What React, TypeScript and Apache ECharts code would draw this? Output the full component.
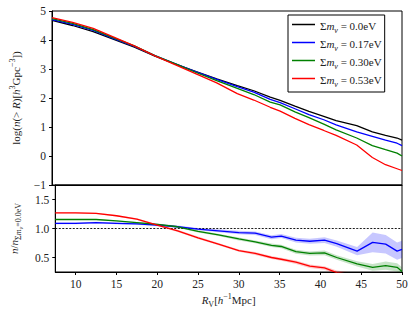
import React, { useEffect, useRef } from "react";
import * as echarts from "echarts";

const X = [7.5, 10, 12.5, 15, 17.5, 20, 22.5, 25, 27.5, 30, 32, 34, 35.2, 37, 38.7, 40.5, 42, 44.5, 46.4, 48, 49.4, 50];

const logN_000 = [4.68, 4.5, 4.29, 4.02, 3.75, 3.44, 3.17, 2.91, 2.66, 2.43, 2.25, 2.03, 1.92, 1.72, 1.54, 1.37, 1.22, 1.05, 0.83, 0.71, 0.62, 0.55];
const logN_017 = [4.7, 4.54, 4.33, 4.05, 3.78, 3.46, 3.18, 2.9, 2.64, 2.39, 2.2, 1.95, 1.84, 1.63, 1.43, 1.25, 1.07, 0.83, 0.68, 0.55, 0.44, 0.36];
const logN_030 = [4.74, 4.57, 4.36, 4.07, 3.8, 3.46, 3.18, 2.88, 2.6, 2.33, 2.12, 1.86, 1.76, 1.52, 1.32, 1.1, 0.9, 0.62, 0.36, 0.22, 0.1, 0.0];
const logN_053 = [4.77, 4.61, 4.4, 4.1, 3.8, 3.45, 3.14, 2.83, 2.52, 2.15, 1.93, 1.68, 1.55, 1.3, 1.08, 0.88, 0.71, 0.38, -0.05, -0.3, -0.44, -0.5];

const ratio_000 = [1, 1, 1, 1, 1, 1, 1, 1, 1, 1, 1, 1, 1, 1, 1, 1, 1, 1, 1, 1, 1, 1];
const ratio_017 = [1.09, 1.09, 1.1, 1.09, 1.08, 1.06, 1.03, 0.99, 0.96, 0.93, 0.92, 0.85, 0.87, 0.8, 0.78, 0.8, 0.74, 0.61, 0.76, 0.73, 0.61, 0.64];
const ratio_030 = [1.155, 1.155, 1.155, 1.13, 1.1, 1.07, 1.03, 0.95, 0.89, 0.82, 0.77, 0.71, 0.69, 0.6, 0.57, 0.58, 0.5, 0.39, 0.33, 0.36, 0.33, 0.26];
const ratio_053 = [1.27, 1.27, 1.26, 1.22, 1.16, 1.06, 0.96, 0.84, 0.73, 0.62, 0.57, 0.5, 0.47, 0.42, 0.35, 0.32, 0.24, 0.19, 0.12, 0.1, 0.09, 0.09];

const err_017 = [0.015, 0.015, 0.015, 0.015, 0.015, 0.02, 0.02, 0.02, 0.025, 0.03, 0.03, 0.035, 0.035, 0.04, 0.045, 0.05, 0.055, 0.07, 0.17, 0.16, 0.15, 0.15];
const err_030 = [0.01, 0.01, 0.01, 0.01, 0.012, 0.015, 0.015, 0.02, 0.02, 0.025, 0.025, 0.03, 0.03, 0.035, 0.035, 0.04, 0.04, 0.045, 0.06, 0.07, 0.07, 0.07];
const err_053 = [0.012, 0.012, 0.012, 0.012, 0.015, 0.015, 0.02, 0.02, 0.02, 0.02, 0.025, 0.025, 0.025, 0.03, 0.03, 0.03, 0.035, 0.04, 0.04, 0.04, 0.04, 0.04];

const NAMES = ["m000", "m017", "m030", "m053"];
const LABELS = ["0.0eV", "0.17eV", "0.30eV", "0.53eV"];
const COLORS = ["#000000", "#0000ff", "#008000", "#ff0000"];
const X_TICKS = [10, 15, 20, 25, 30, 35, 40, 45, 50];
const Y2_TICKS = [0.5, 1.0, 1.5];

const FONT = "Liberation Serif";
const TXT = "#222";

const pairs = (ys: number[]) => X.map((x, i) => [x, ys[i]]);

export default function App() {
  const ref = useRef<HTMLDivElement>(null);
  useEffect(() => {
    document.body.style.margin = "0";
    const chart = echarts.init(ref.current!, null, { renderer: "svg" });
    const topLogs = [logN_000, logN_017, logN_030, logN_053];
    const ratios = [ratio_000, ratio_017, ratio_030, ratio_053];
    const errs = [null, err_017, err_030, err_053];

    const series: any[] = [];
    topLogs.forEach((ys, k) => {
      series.push({
        name: NAMES[k],
        type: "line",
        xAxisIndex: 0,
        yAxisIndex: 0,
        data: pairs(ys),
        symbol: "none",
        lineStyle: { color: COLORS[k], width: 1.3 },
        itemStyle: { color: COLORS[k] },
      });
    });
    // error bands
    [1, 2, 3].forEach((k) => {
      const e = errs[k]!;
      const r = ratios[k];
      const bandData = X.map((x, i) => [x, r[i] - e[i], r[i] + e[i]]);
      series.push({
        type: "custom",
        xAxisIndex: 1,
        yAxisIndex: 1,
        silent: true,
        clip: true,
        data: bandData,
        encode: { x: 0, y: [1, 2] },
        renderItem: (params: any, api: any) => {
          if (params.dataIndex !== 0) return null;
          const upper = bandData.map((d) => api.coord([d[0], d[2]]));
          const lower = bandData.map((d) => api.coord([d[0], d[1]])).reverse();
          return {
            type: "polygon",
            shape: { points: upper.concat(lower) },
            style: { fill: COLORS[k], opacity: 0.22 },
          };
        },
      });
    });
    ratios.forEach((ys, k) => {
      series.push({
        name: NAMES[k],
        type: "line",
        xAxisIndex: 1,
        yAxisIndex: 1,
        data: pairs(ys),
        symbol: "none",
        lineStyle:
          k === 0
            ? { color: "#000", width: 0.9, type: [2, 1.5] }
            : { color: COLORS[k], width: 1.3 },
        itemStyle: { color: COLORS[k] },
      });
    });

    const rich = {
      n: { fontFamily: FONT, fontSize: 11, color: TXT, verticalAlign: "bottom" },
      i: { fontFamily: FONT, fontSize: 11, fontStyle: "italic", color: TXT, verticalAlign: "bottom" },
      sup: { fontFamily: FONT, fontSize: 8, color: TXT, verticalAlign: "bottom", padding: [0, 0, 5, 0] },
      sub: { fontFamily: FONT, fontSize: 8, color: TXT, verticalAlign: "bottom", padding: [0, 0, -3, 0] },
      subi: { fontFamily: FONT, fontSize: 8, fontStyle: "italic", color: TXT, verticalAlign: "bottom", padding: [0, 0, -3, 0] },
      ssub: { fontFamily: FONT, fontSize: 6, fontStyle: "italic", color: TXT, verticalAlign: "bottom", padding: [0, 0, -5, 0] },
    };

    const axisCommon = {
      axisLine: { onZero: false, lineStyle: { color: "#000", width: 1 } },
      splitLine: { show: false },
    };

    chart.setOption({
      animation: false,
      legend: {
        data: NAMES,
        orient: "vertical",
        left: 288,
        top: 15,
        padding: [3, 3, 4, 4],
        icon: "rect",
        itemWidth: 23,
        itemHeight: 1.5,
        itemGap: 2,
        borderColor: "#000",
        borderWidth: 1,
        borderRadius: 0,
        backgroundColor: "#fff",
        formatter: (name: string) => {
          const k = NAMES.indexOf(name);
          return "{n|Σ}{i|m}{subi|ν}{n| = " + LABELS[k] + "}";
        },
        textStyle: { fontFamily: FONT, fontSize: 11, color: TXT, lineHeight: 13, rich },
      },
      grid: [
        { left: 51, right: 13, top: 11, height: 174, show: true, borderColor: "#000", borderWidth: 1 },
        { left: 51, right: 13, top: 185, height: 87, show: true, borderColor: "#000", borderWidth: 1 },
      ],
      xAxis: [
        {
          type: "value",
          gridIndex: 0,
          min: 7.5,
          max: 50,
          axisLabel: { show: false },
          axisTick: { show: false },
          ...axisCommon,
        },
        {
          type: "value",
          gridIndex: 1,
          min: 7.5,
          max: 50,
          ...axisCommon,
          axisTick: { show: true, length: 3, customValues: X_TICKS, lineStyle: { color: "#000" } },
          axisLabel: {
            customValues: X_TICKS,
            margin: 6,
            fontFamily: FONT,
            fontSize: 11.5,
            color: TXT,
          },
          name: "{i|R}{sub|V}{n|[}{i|h}{sup|−1}{n|Mpc]}",
          nameLocation: "middle",
          nameGap: 20,
          nameTextStyle: { rich },
        },
      ],
      yAxis: [
        {
          type: "value",
          gridIndex: 0,
          min: -1,
          max: 5,
          interval: 1,
          ...axisCommon,
          axisTick: { show: true, length: 3, lineStyle: { color: "#000" } },
          axisLabel: {
            margin: 6,
            fontFamily: FONT,
            fontSize: 11.5,
            color: TXT,
            formatter: (v: number) => (v < 0 ? "−" + Math.abs(v) : String(v)),
          },
          name: "{n|log(}{i|n}{n|(> }{i|R}{n|)[}{i|h}{sup|3}{n|Gpc}{sup|−3}{n|])}",
          nameLocation: "middle",
          nameRotate: 90,
          nameGap: 31,
          nameTextStyle: { rich },
        },
        {
          type: "value",
          gridIndex: 1,
          min: 0.25,
          max: 1.75,
          ...axisCommon,
          axisTick: { show: true, length: 3, customValues: Y2_TICKS, lineStyle: { color: "#000" } },
          axisLabel: {
            customValues: Y2_TICKS,
            margin: 6,
            fontFamily: FONT,
            fontSize: 11.5,
            color: TXT,
            formatter: (v: number) => v.toFixed(1),
          },
          name: "{i|n}{n|/}{i|n}{sub|Σ}{subi|m}{ssub|ν}{sub|=0.0eV}",
          nameLocation: "middle",
          nameRotate: 90,
          nameGap: 31,
          nameTextStyle: { rich },
        },
      ],
      series,
    });
    return () => chart.dispose();
  }, []);
  return <div ref={ref} style={{ width: 415, height: 314 }} />;
}
